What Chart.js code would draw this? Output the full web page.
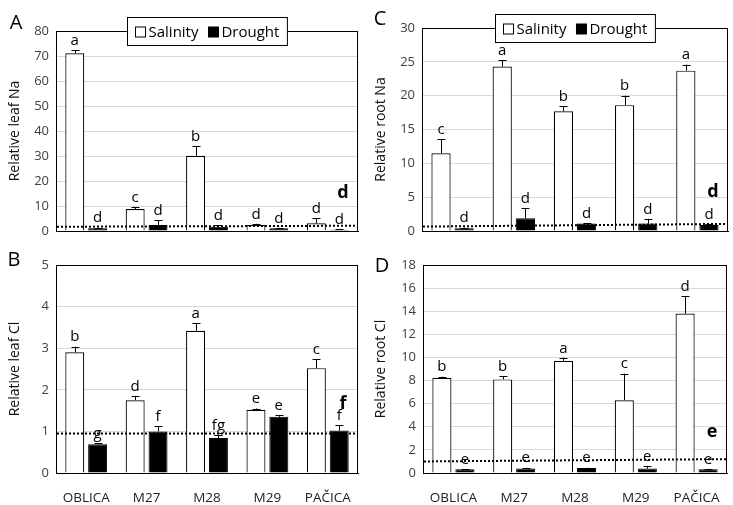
<!DOCTYPE html>
<html>
<head>
<meta charset="utf-8">
<script src="https://cdn.jsdelivr.net/npm/chart.js@4/dist/chart.umd.min.js"></script>
<style>
  body { margin: 0; background: #fff; }
  .panel { position: absolute; }
</style>
</head>
<body>
<div class="panel" style="left:0;top:0"><canvas id="chartA" width="366" height="250"></canvas></div>
<div class="panel" style="left:366px;top:0"><canvas id="chartC" width="367" height="250"></canvas></div>
<div class="panel" style="left:0;top:250px"><canvas id="chartB" width="366" height="255"></canvas></div>
<div class="panel" style="left:366px;top:250px"><canvas id="chartD" width="367" height="255"></canvas></div>
<script>
const cultivars = ['OBLICA', 'M27', 'M28', 'M29', 'PAČICA'];
const seriesNames = ['Salinity', 'Drought'];

// A - relative leaf Na
const leafNaSal = [71.1, 8.8, 30.1, 2.4, 3.1];
const leafNaSalErr = [1.3, 0.7, 4.0, 0.5, 2.0];
const leafNaDro = [1.1, 2.4, 1.7, 1.1, 0.5];
const leafNaDroErr = [0.3, 2.0, 0.6, 0.2, 0.2];
const leafNaSalLetters = ['a', 'c', 'b', 'd', 'd'];
const leafNaDroLetters = ['d', 'd', 'd', 'd', 'd'];
const leafNaTicks = [0, 80, 10];
const leafNaRef = [1.7, 2.1];
const leafNaBold = ['d', 15.2];

// C - relative root Na
const rootNaSal = [11.5, 24.3, 17.7, 18.6, 23.7];
const rootNaSalErr = [2.1, 0.9, 0.7, 1.4, 0.9];
const rootNaDro = [0.4, 1.9, 1.1, 1.1, 0.9];
const rootNaDroErr = [0.1, 1.5, 0.1, 0.7, 0.1];
const rootNaSalLetters = ['c', 'a', 'b', 'b', 'a'];
const rootNaDroLetters = ['d', 'd', 'd', 'd', 'd'];
const rootNaTicks = [0, 30, 5];
const rootNaRef = [0.65, 1.05];
const rootNaBold = ['d', 5.8];

// B - relative leaf Cl
const leafClSal = [2.9, 1.75, 3.42, 1.52, 2.52];
const leafClSalErr = [0.14, 0.1, 0.18, 0.03, 0.22];
const leafClDro = [0.69, 1.0, 0.84, 1.35, 1.02];
const leafClDroErr = [0.03, 0.12, 0.07, 0.04, 0.13];
const leafClSalLetters = ['b', 'd', 'a', 'e', 'c'];
const leafClDroLetters = ['g', 'f', 'fg', 'e', 'f'];
const leafClTicks = [0, 5, 1];
const leafClRef = [0.95, 0.95];
const leafClBold = ['f', 1.67];

// D - relative root Cl
const rootClSal = [8.24, 8.1, 9.7, 6.3, 13.8];
const rootClSalErr = [0.1, 0.3, 0.27, 2.3, 1.5];
const rootClDro = [0.32, 0.38, 0.43, 0.38, 0.32];
const rootClDroErr = [0.03, 0.08, 0.03, 0.22, 0.03];
const rootClSalLetters = ['b', 'b', 'a', 'c', 'd'];
const rootClDroLetters = ['e', 'e', 'e', 'e', 'e'];
const rootClTicks = [0, 18, 2];
const rootClRef = [1.0, 1.2];
const rootClBold = ['e', 3.6];

const FONT = "'Open Sans', 'Liberation Sans', sans-serif";

// draws the box, error bars, letters, dotted line, legend and panel letter
const panelMarks = {
    id: 'panelMarks',
    beforeDatasetsDraw(chart) {
        const {ctx, chartArea: a} = chart;
        ctx.save();
        ctx.strokeStyle = '#000';
        ctx.lineWidth = 1;
        ctx.strokeRect(Math.round(a.left) + 0.5, Math.round(a.top) + 0.5,
                Math.round(a.width) - 1, Math.round(a.height));
        ctx.restore();
    },
    afterDatasetsDraw(chart, args, opts) {
        const {ctx, chartArea: a, scales: {y}} = chart;
        ctx.save();
        chart.data.datasets.forEach((ds, di) => {
            const meta = chart.getDatasetMeta(di);
            meta.data.forEach((bar, i) => {
                const top = y.getPixelForValue(ds.data[i] + ds.err[i]);
                const x = Math.round(bar.x) + 0.5;
                ctx.strokeStyle = '#000';
                ctx.lineWidth = 1;
                ctx.beginPath();
                ctx.moveTo(x, bar.y);
                ctx.lineTo(x, top);
                ctx.moveTo(x - 4, Math.round(top) + 0.5);
                ctx.lineTo(x + 4, Math.round(top) + 0.5);
                ctx.stroke();
                ctx.fillStyle = '#000';
                ctx.font = '15px ' + FONT;
                ctx.textAlign = 'center';
                ctx.textBaseline = 'bottom';
                ctx.fillText(ds.letters[i], bar.x, top - 2);
            });
        });

        // dotted reference line
        ctx.strokeStyle = '#000';
        ctx.lineWidth = 2;
        ctx.setLineDash([2, 2]);
        ctx.beginPath();
        ctx.moveTo(a.left + 1, y.getPixelForValue(opts.ref[0]));
        ctx.lineTo(a.right - 1, y.getPixelForValue(opts.ref[1]));
        ctx.stroke();
        ctx.setLineDash([]);

        // bold letter on the right
        ctx.font = 'bold 18px ' + FONT;
        ctx.textAlign = 'center';
        ctx.textBaseline = 'middle';
        ctx.fillText(opts.bold[0], a.right - 15, y.getPixelForValue(opts.bold[1]));
        ctx.restore();
    },
    afterDraw(chart, args, opts) {
        const {ctx, chartArea: a} = chart;
        ctx.save();
        ctx.fillStyle = '#000';
        ctx.font = '20px ' + FONT;
        ctx.textAlign = 'center';
        ctx.textBaseline = 'middle';
        ctx.fillText(opts.panel, opts.panelPos[0], opts.panelPos[1]);

        if (opts.legend) {
            ctx.font = '15px ' + FONT;
            const items = chart.data.datasets.map(ds => ({
                    label: ds.label, fill: ds.backgroundColor, w: ctx.measureText(ds.label).width
                }));
            const sw = 10, gap = 3, sep = 10, pad = 8;
            const total = items.reduce((s, it) => s + sw + gap + it.w, 0) + sep * (items.length - 1) + pad * 2;
            const h = 28;
            const cx = (a.left + a.right) / 2;
            const bx = Math.round(cx - total / 2) + 0.5;
            const by = Math.round(a.top - h / 2) + 0.5;
            ctx.fillStyle = '#fff';
            ctx.fillRect(bx, by, total, h);
            ctx.strokeStyle = '#000';
            ctx.lineWidth = 1;
            ctx.strokeRect(bx, by, total, h);
            let x = bx + pad;
            const my = by + h / 2;
            ctx.textAlign = 'left';
            items.forEach(it => {
                ctx.fillStyle = it.fill;
                ctx.fillRect(x, Math.round(my - sw / 2), sw, sw);
                ctx.strokeRect(x, Math.round(my - sw / 2), sw, sw);
                x += sw + gap;
                ctx.fillStyle = '#000';
                ctx.fillText(it.label, x, my + 1);
                x += it.w + sep;
            });
        }
        ctx.restore();
    }
};

function makePanel(id, cfg) {
    const canvas = document.getElementById(id);
    const W = canvas.width, H = canvas.height;
    return new Chart(canvas, {
        type: 'bar',
        data: {
            labels: cultivars,
            datasets: [{
                    label: seriesNames[0],
                    data: cfg.sal,
                    err: cfg.salErr,
                    letters: cfg.salLetters,
                    backgroundColor: '#ffffff',
                    borderColor: '#000000',
                    borderWidth: 1.2
                }, {
                    label: seriesNames[1],
                    data: cfg.dro,
                    err: cfg.droErr,
                    letters: cfg.droLetters,
                    backgroundColor: '#000000',
                    borderColor: '#000000',
                    borderWidth: 1
                }]
        },
        options: {
            responsive: false,
            animation: false,
            devicePixelRatio: 1,
            categoryPercentage: 0.757,
            barPercentage: 0.83,
            layout: {
                padding: {top: cfg.area[1], right: W - cfg.area[2], left: 0, bottom: 0}
            },
            plugins: {
                legend: {display: false},
                tooltip: {enabled: false},
                panelMarks: {
                    ref: cfg.ref,
                    bold: cfg.bold,
                    panel: cfg.panel,
                    panelPos: cfg.panelPos,
                    legend: cfg.legend
                }
            },
            scales: {
                x: {
                    grid: {display: false},
                    border: {display: true, color: '#000'},
                    ticks: {
                        display: cfg.xLabels,
                        color: '#222',
                        padding: 9,
                        font: {family: FONT, size: 13.5}
                    },
                    afterFit: (s) => { s.height = H - cfg.area[3]; }
                },
                y: {
                    min: cfg.ticks[0],
                    max: cfg.ticks[1],
                    grid: {color: '#d9d9d9', drawTicks: false},
                    border: {display: true, color: '#000'},
                    ticks: {
                        stepSize: cfg.ticks[2],
                        color: '#404040',
                        padding: 7,
                        font: {family: FONT, size: 13}
                    },
                    title: {
                        display: true,
                        text: cfg.title,
                        color: '#111',
                        padding: {top: 7, bottom: 0},
                        font: {family: FONT, size: 14}
                    },
                    afterFit: (s) => { s.width = cfg.area[0]; }
                }
            }
        },
        plugins: [panelMarks]
    });
}

makePanel('chartA', {
    sal: leafNaSal, salErr: leafNaSalErr, dro: leafNaDro, droErr: leafNaDroErr,
    salLetters: leafNaSalLetters, droLetters: leafNaDroLetters,
    ticks: leafNaTicks, ref: leafNaRef, bold: leafNaBold,
    title: 'Relative leaf Na', panel: 'A', panelPos: [16, 23],
    area: [56, 31, 358, 231], legend: true, xLabels: false
});

makePanel('chartC', {
    sal: rootNaSal, salErr: rootNaSalErr, dro: rootNaDro, droErr: rootNaDroErr,
    salLetters: rootNaSalLetters, droLetters: rootNaDroLetters,
    ticks: rootNaTicks, ref: rootNaRef, bold: rootNaBold,
    title: 'Relative root Na', panel: 'C', panelPos: [14, 19],
    area: [56, 28, 362, 231], legend: true, xLabels: false
});

makePanel('chartB', {
    sal: leafClSal, salErr: leafClSalErr, dro: leafClDro, droErr: leafClDroErr,
    salLetters: leafClSalLetters, droLetters: leafClDroLetters,
    ticks: leafClTicks, ref: leafClRef, bold: leafClBold,
    title: 'Relative leaf Cl', panel: 'B', panelPos: [14, 10],
    area: [56, 15, 358, 223], legend: false, xLabels: true
});

makePanel('chartD', {
    sal: rootClSal, salErr: rootClSalErr, dro: rootClDro, droErr: rootClDroErr,
    salLetters: rootClSalLetters, droLetters: rootClDroLetters,
    ticks: rootClTicks, ref: rootClRef, bold: rootClBold,
    title: 'Relative root Cl', panel: 'D', panelPos: [16, 16],
    area: [57, 15, 361, 223], legend: false, xLabels: true
});
</script>
</body>
</html>
